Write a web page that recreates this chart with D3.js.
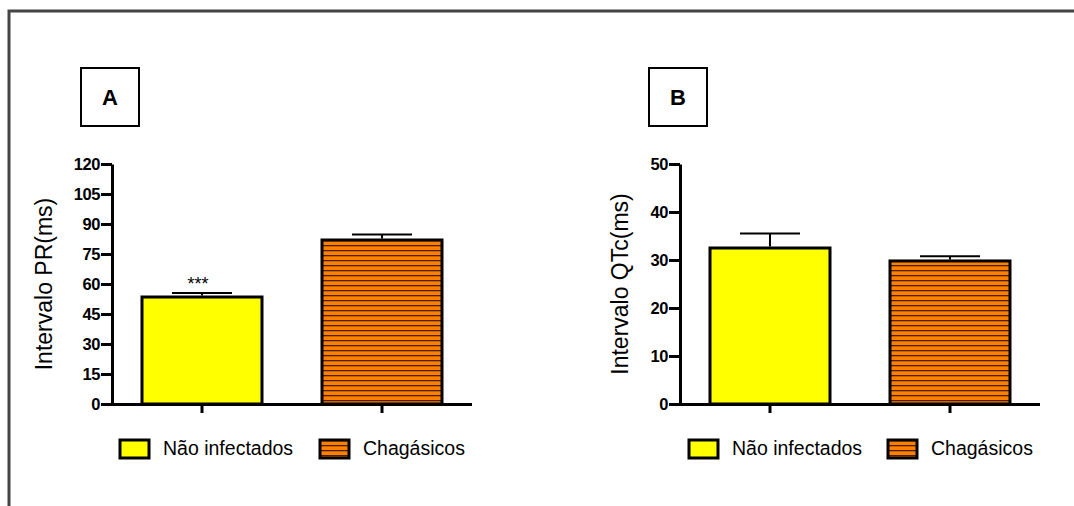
<!DOCTYPE html>
<html>
<head>
<meta charset="utf-8">
<script src="https://cdn.jsdelivr.net/npm/d3@7"></script>
<style>
  body { margin: 0; background: #fff; }
  svg { display: block; font-family: "Liberation Sans", Arial, sans-serif; }
</style>
</head>
<body>
<div id="chart"></div>
<script>
// data
var groups = ["Não infectados", "Chagásicos"];

var prMeans = [53.5, 82];
var prSem = [2, 2.8];
var prTicks = [0, 15, 30, 45, 60, 75, 90, 105, 120];

var qtcMeans = [32.5, 29.8];
var qtcSem = [3, 1];
var qtcTicks = [0, 10, 20, 30, 40, 50];

var svgWidth = 1074;
var svgHeight = 506;

var svg = d3.select("#chart")
  .append("svg")
  .attr("width", svgWidth)
  .attr("height", svgHeight);

// hatch pattern for the Chagásicos bars
var defs = svg.append("defs");
var pat = defs.append("pattern")
  .attr("id", "hatch")
  .attr("patternUnits", "userSpaceOnUse")
  .attr("width", 10)
  .attr("height", 5);
pat.append("rect")
  .attr("width", 10)
  .attr("height", 5)
  .attr("fill", "#ff8000");
pat.append("rect")
  .attr("y", 0)
  .attr("width", 10)
  .attr("height", 1.3)
  .attr("fill", "#4a2200");

var fills = ["#ffff00", "url(#hatch)"];

// outer frame (only top and left show in the picture)
svg.append("path")
  .attr("d", "M9,506 L9,11 L1074,11")
  .attr("fill", "none")
  .attr("stroke", "#444")
  .attr("stroke-width", 3);

var plotTop = 164, plotBottom = 404;

function drawPanel(opts) {
  var g = svg.append("g");

  var x = d3.scaleBand()
    .domain(groups)
    .range([opts.left, opts.left + 360])
    .paddingInner(1 / 3)
    .paddingOuter(1 / 6);

  var y = d3.scaleLinear()
    .domain(opts.domain)
    .range([plotBottom, plotTop]);

  // bars
  g.selectAll(".bar")
    .data(groups)
    .enter()
    .append("rect")
    .attr("x", d => x(d))
    .attr("y", (d, i) => y(opts.means[i]))
    .attr("width", x.bandwidth())
    .attr("height", (d, i) => plotBottom - y(opts.means[i]))
    .attr("fill", (d, i) => fills[i])
    .attr("stroke", "#000")
    .attr("stroke-width", 3);

  // error bars (upper half only)
  var err = g.selectAll(".err")
    .data(groups)
    .enter()
    .append("g");
  err.append("line")
    .attr("x1", d => x(d) + x.bandwidth() / 2)
    .attr("x2", d => x(d) + x.bandwidth() / 2)
    .attr("y1", (d, i) => y(opts.means[i]) - 1.5)
    .attr("y2", (d, i) => y(opts.means[i] + opts.sem[i]))
    .attr("stroke", "#000")
    .attr("stroke-width", 2);
  err.append("line")
    .attr("x1", d => x(d) + x.bandwidth() / 4)
    .attr("x2", d => x(d) + x.bandwidth() * 3 / 4)
    .attr("y1", (d, i) => y(opts.means[i] + opts.sem[i]))
    .attr("y2", (d, i) => y(opts.means[i] + opts.sem[i]))
    .attr("stroke", "#000")
    .attr("stroke-width", 2);

  // y axis
  var yAxis = g.append("g")
    .attr("transform", `translate(${opts.left}, 0)`)
    .attr("font-size", null)
    .attr("font-family", null)
    .call(d3.axisLeft(y).tickValues(opts.ticks).tickSize(11).tickSizeOuter(0).tickPadding(1));
  yAxis.select(".domain").attr("stroke-width", 3);
  yAxis.selectAll(".tick line").attr("stroke-width", 3);
  yAxis.selectAll(".tick text")
    .style("font-family", "'Liberation Sans', Arial, sans-serif")
    .style("font-size", "16.5px")
    .style("font-weight", "bold")
    .style("letter-spacing", "-0.4px")
    .attr("dy", "0.36em")
    .attr("fill", "#000");

  // x axis
  var xAxis = g.append("g")
    .attr("transform", `translate(0, ${plotBottom})`)
    .call(d3.axisBottom(x).tickSize(9).tickSizeOuter(0).tickFormat(""));
  xAxis.select(".domain").attr("stroke-width", 3)
    .attr("d", `M${opts.left - 1.5},0.5H${opts.left + 360}`);
  xAxis.selectAll(".tick line").attr("stroke-width", 3);

  // y label
  g.append("text")
    .attr("transform", `translate(${opts.labelX}, ${(plotTop + plotBottom) / 2}) rotate(-90)`)
    .attr("text-anchor", "middle")
    .style("font-size", "23px")
    .text(opts.yLabel);

  // panel letter box
  g.append("rect")
    .attr("x", opts.boxX)
    .attr("y", 68)
    .attr("width", 58)
    .attr("height", 58)
    .attr("fill", "#fff")
    .attr("stroke", "#000")
    .attr("stroke-width", 2);
  g.append("text")
    .attr("x", opts.boxX + 29)
    .attr("y", 105)
    .attr("text-anchor", "middle")
    .style("font-size", "22px")
    .style("font-weight", "bold")
    .text(opts.letter);

  // significance mark
  if (opts.stars) {
    g.append("text")
      .attr("x", x(groups[0]) + x.bandwidth() / 2 - 4)
      .attr("y", 290)
      .attr("text-anchor", "middle")
      .style("font-size", "18px")
      .text(opts.stars);
  }

  // legend
  var leg = g.selectAll(".leg")
    .data(groups)
    .enter()
    .append("g")
    .attr("transform", (d, i) => `translate(${opts.legendX[i]}, 440)`);
  leg.append("rect")
    .attr("width", 29)
    .attr("height", 18)
    .attr("fill", (d, i) => fills[i])
    .attr("stroke", "#000")
    .attr("stroke-width", 3);
  leg.append("text")
    .attr("x", 43)
    .attr("y", 15)
    .style("font-size", "19.5px")
    .text(d => d);
}

drawPanel({
  left: 112,
  domain: [0, 120],
  ticks: prTicks,
  means: prMeans,
  sem: prSem,
  yLabel: "Intervalo PR(ms)",
  labelX: 52,
  boxX: 81,
  letter: "A",
  stars: "***",
  legendX: [120, 320]
});

drawPanel({
  left: 680,
  domain: [0, 50],
  ticks: qtcTicks,
  means: qtcMeans,
  sem: qtcSem,
  yLabel: "Intervalo QTc(ms)",
  labelX: 628,
  boxX: 649,
  letter: "B",
  stars: null,
  legendX: [689, 888]
});
</script>
</body>
</html>
